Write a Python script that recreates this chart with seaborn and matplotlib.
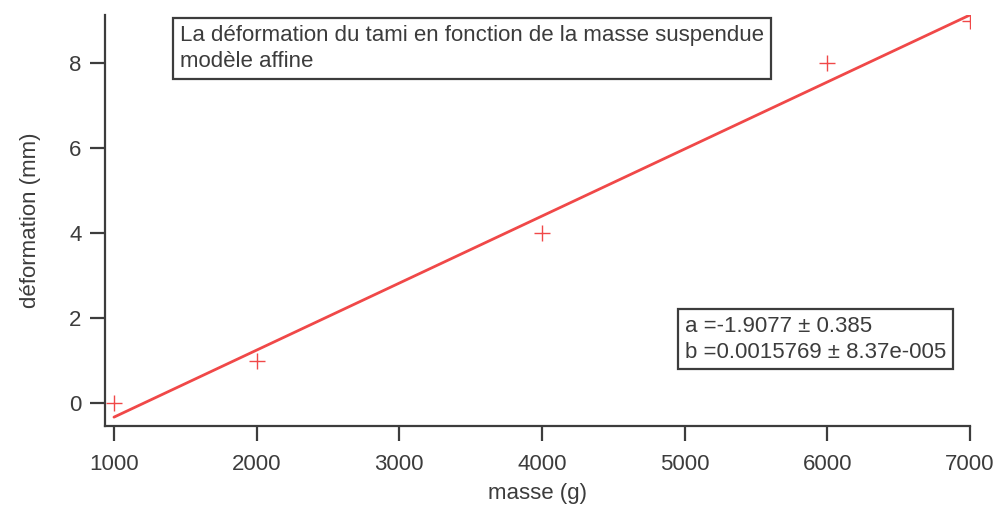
import numpy as np
import pandas as pd
import seaborn as sns
from matplotlib import pyplot as plt

# données mesurées
masse = [1000, 2000, 4000, 6000, 7000]
deformation = [0, 1, 4, 8, 9]
# paramètres du modèle affine
a = -1.9077
b = 0.0015769

sns.set_theme(style="ticks")
plt.rcParams['font.family'] = ['Liberation Sans', 'DejaVu Sans']
grey = '#3c3c3c'
red = '#f04848'

df = pd.DataFrame({'masse': masse, 'deformation': deformation})
fit_x = np.array([min(masse), max(masse)])
fit_df = pd.DataFrame({'masse': fit_x, 'deformation': a + b * fit_x})

fig = plt.figure(figsize=(9.98, 5.09), dpi=100)
ax = fig.add_axes([0.1052, 0.163, 0.8667, 0.8075])

sns.lineplot(data=fit_df, x='masse', y='deformation', color=red, linewidth=2, ax=ax)
sns.scatterplot(data=df, x='masse', y='deformation', marker='+', s=120, color=red,
                linewidth=1.0, ax=ax, zorder=3)

ax.set_xlim(937, 7000)
ax.set_ylim(-0.54, 9.13)
ax.set_xticks([1000, 2000, 3000, 4000, 5000, 6000, 7000])
ax.set_yticks([0, 2, 4, 6, 8])
sns.despine(ax=ax)
for s in ['left', 'bottom']:
    ax.spines[s].set_color(grey)
    ax.spines[s].set_linewidth(1.6)
ax.tick_params(colors=grey, labelsize=16, length=11, width=1.6, direction='out')
ax.tick_params(axis='x', pad=9)
ax.tick_params(axis='y', pad=6)
ax.set_xlabel('masse (g)', fontsize=16, color=grey, labelpad=6)
ax.set_ylabel('déformation (mm)', fontsize=16, color=grey, labelpad=20)

ax.text(0.0867, 0.976, 'La déformation du tami en fonction de la masse suspendue\nmodèle affine',
        transform=ax.transAxes, ha='left', va='top', fontsize=16, color=grey, linespacing=1.35,
        bbox=dict(boxstyle='square,pad=0.3', facecolor='white', edgecolor=grey, linewidth=1.6))
ax.text(0.6705, 0.268, 'a =-1.9077 ± 0.385\nb =0.0015769 ± 8.37e-005',
        transform=ax.transAxes, ha='left', va='top', fontsize=16, color=grey, linespacing=1.3,
        bbox=dict(boxstyle='square,pad=0.3', facecolor='white', edgecolor=grey, linewidth=1.6))

plt.savefig('out.png')
